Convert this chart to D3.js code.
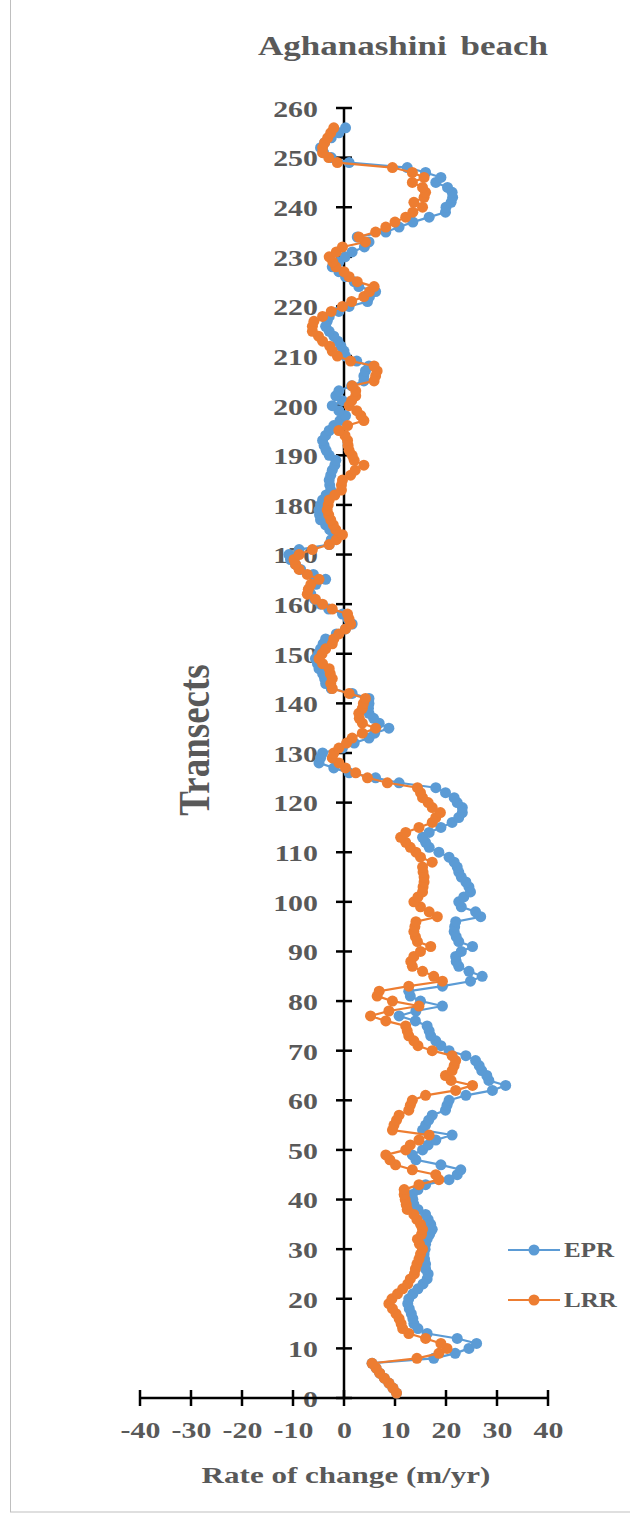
<!DOCTYPE html>
<html>
<head>
<meta charset="utf-8">
<script src="https://cdn.jsdelivr.net/npm/d3@7"></script>
<style>
  body { margin: 0; background: #fff; }
  svg { display: block; }
</style>
</head>
<body>
<svg></svg>
<script>
// transect numbers run 1..256, values listed from transect 1 upward
var transects = d3.range(1, 257);

var epr = [
  10.3, 9.6, 8.8, 7.9, 7.0, 6.3, 5.5, 17.6, 21.8, 24.5,
  26.0, 22.2, 16.3, 14.5, 13.7, 13.5, 13.2, 12.8, 12.5, 12.7,
  13.5, 14.5, 15.5, 16.3, 16.5, 16.0, 16.0, 15.8, 15.7, 15.9,
  16.0, 16.3, 16.8, 17.3, 17.0, 16.5, 16.0, 14.5, 13.7, 13.5,
  13.4, 14.5, 16.0, 20.6, 22.2, 22.9, 19.0, 14.1, 13.4, 15.4,
  16.5, 18.0, 21.2, 15.4, 16.0, 16.6, 17.3, 19.9, 20.2, 20.6,
  23.9, 29.1, 31.7, 28.4, 28.0, 27.0, 26.5, 25.8, 23.9, 20.6,
  19.0, 18.0, 17.0, 16.7, 16.3, 14.0, 10.8, 14.1, 19.3, 15.0,
  13.0, 12.7, 19.3, 24.8, 27.1, 24.5, 22.5, 22.0, 21.9, 23.0,
  25.2, 22.5, 22.0, 21.6, 21.7, 21.9, 26.8, 25.8, 23.0, 22.5,
  23.5, 24.8, 24.5, 23.9, 23.0, 22.5, 22.2, 21.6, 20.6, 18.6,
  16.7, 16.0, 15.4, 16.7, 19.0, 21.2, 22.5, 23.2, 23.2, 22.2,
  21.6, 19.9, 18.0, 10.8, 6.2, 1.0, -2.0, -4.9, -4.6, -4.2,
  -0.3, 2.0, 4.9, 6.0, 8.8, 6.9, 5.8, 4.9, 4.8, 4.9,
  4.9, 1.6, -2.5, -3.6, -3.8, -4.2, -4.9, -5.2, -5.6, -5.0,
  -4.6, -4.1, -3.6, -1.5, 0.3, 1.6, 0.8, -0.3, -3.0, -4.6,
  -5.8, -6.5, -6.9, -5.5, -3.6, -6.0, -8.5, -9.5, -10.5, -10.8,
  -8.8, -2.9, -2.5, -1.6, -2.8, -3.6, -4.6, -4.8, -4.9, -4.6,
  -4.2, -3.5, -2.6, -2.8, -2.9, -2.6, -2.3, -1.8, -1.6, -2.9,
  -3.5, -3.9, -4.2, -3.6, -2.9, -2.0, -0.8, 0.3, -1.0, -2.3,
  -0.3, -1.6, -1.0, 1.5, 3.9, 3.9, 4.2, 4.9, 2.5, 0.3,
  0.0, -0.6, -1.2, -2.0, -2.9, -3.6, -3.3, -2.9, -1.0, 1.0,
  4.6, 5.0, 6.2, 2.9, 2.0, 0.3, -1.0, -2.3, -1.0, 0.2,
  1.6, 4.0, 4.9, 2.6, 8.2, 10.8, 13.5, 16.7, 19.9, 20.0,
  21.0, 21.3, 21.2, 20.3, 18.0, 19.0, 16.0, 12.4, 1.0, -2.5,
  -4.0, -4.6, -3.8, -2.5, -1.0, 0.3
];

var lrr = [
  10.3, 9.6, 8.8, 7.9, 7.0, 6.3, 5.5, 14.3, 18.6, 20.2,
  19.0, 16.0, 12.7, 11.5, 11.2, 10.8, 10.2, 9.5, 8.8, 9.4,
  10.5, 11.5, 12.5, 13.0, 13.8, 14.0, 14.3, 14.7, 15.0, 15.4,
  14.8, 14.4, 15.2, 15.4, 15.0, 14.3, 13.7, 12.4, 12.2, 12.0,
  11.8, 11.8, 14.7, 18.6, 18.0, 13.4, 10.1, 9.0, 8.2, 12.1,
  13.0, 14.7, 16.7, 9.5, 9.8, 10.3, 10.8, 12.7, 13.0, 13.4,
  16.0, 21.9, 25.2, 21.0, 19.9, 21.2, 21.6, 21.9, 21.2, 17.3,
  14.5, 13.7, 12.7, 12.4, 12.1, 8.2, 5.2, 8.8, 14.7, 9.5,
  6.5, 6.9, 12.7, 19.3, 17.6, 15.4, 13.4, 13.1, 13.7, 15.0,
  17.0, 14.4, 14.0, 13.7, 13.9, 14.1, 18.3, 16.7, 15.0, 13.7,
  14.5, 15.4, 15.5, 15.7, 15.7, 15.5, 15.4, 17.3, 15.0, 14.1,
  13.0, 12.1, 11.1, 12.1, 14.7, 17.3, 18.0, 18.9, 17.3, 16.5,
  15.4, 15.0, 14.4, 8.5, 4.6, 2.3, 0.3, -1.0, -2.3, -2.0,
  -1.0, 0.5, 1.6, 3.6, 6.2, 3.6, 3.0, 2.9, 3.6, 3.8,
  4.2, 1.0, -2.3, -2.6, -2.3, -2.7, -2.9, -4.2, -4.9, -4.3,
  -3.6, -2.3, -2.0, -1.0, 0.3, 1.3, 1.0, 0.7, -2.3, -4.2,
  -5.6, -7.2, -7.0, -6.5, -4.9, -7.2, -8.8, -9.5, -9.8, -8.8,
  -6.2, -2.9, -1.5, -0.3, -1.6, -2.1, -2.6, -3.0, -3.3, -3.1,
  -2.9, -1.8, -0.5, -0.5, -0.3, 1.3, 2.2, 3.9, 2.0, 1.6,
  1.0, 0.8, 0.7, 0.2, -1.0, 0.7, 3.9, 3.3, 2.5, 1.0,
  1.5, 2.3, 2.3, 1.6, 5.9, 6.2, 6.5, 5.9, 1.3, -1.3,
  -2.3, -2.8, -4.2, -5.0, -6.2, -6.2, -5.9, -4.2, -2.5, -0.3,
  1.5, 3.9, 5.0, 5.9, 2.6, 1.0, 0.0, -1.6, -2.2, -2.9,
  -1.5, -0.3, 4.2, 2.9, 6.2, 8.2, 10.0, 12.1, 13.5, 15.4,
  13.7, 15.7, 16.0, 15.4, 13.4, 15.7, 13.4, 9.5, -1.3, -3.0,
  -4.2, -4.2, -3.8, -3.2, -2.6, -2.0
];

var xTicks = [-40, -30, -20, -10, 0, 10, 20, 30, 40];
var yTicks = d3.range(0, 261, 10);

var series = [
  { name: "EPR", values: epr, color: "#5B9BD5" },
  { name: "LRR", values: lrr, color: "#ED7D31" }
];

var width = 630, height = 1517;
var svg = d3.select("svg")
    .attr("width", width)
    .attr("height", height);

var font = "'Liberation Serif', 'Times New Roman', serif";
var grey = "#595959";
// the source picture is stretched sideways, so text is widened a bit
var stretch = 1.3;

// chart frame
svg.append("rect")
    .attr("x", 10.5)
    .attr("y", -1)
    .attr("width", 640)
    .attr("height", 1513)
    .attr("fill", "#fff")
    .attr("stroke", "#bfbfbf");

var x = d3.scaleLinear().domain([-40, 40]).range([140, 548]);
var y = d3.scaleLinear().domain([0, 260]).range([1398, 108]);

// y axis sits on x = 0, x axis on transect 0
var yAxis = d3.axisLeft(y)
    .tickValues(yTicks)
    .tickSize(0)
    .tickPadding(0)
    .tickFormat(function (d) { return String(d); });

var gy = svg.append("g")
    .attr("transform", "translate(" + x(0) + ",0)")
    .call(yAxis);
gy.select(".domain").remove();
gy.selectAll("text")
    .attr("x", 0)
    .attr("transform", "translate(-26,1) scale(" + stretch + ",1)")
    .attr("fill", grey)
    .style("font-family", font)
    .style("font-size", "23px")
    .style("font-weight", "bold");

// plain hyphen for negatives, as in the source
var xAxis = d3.axisBottom(x)
    .tickValues(xTicks)
    .tickSize(0)
    .tickPadding(24)
    .tickFormat(function (d) { return String(d); });

var gx = svg.append("g")
    .attr("transform", "translate(0," + y(0) + ")")
    .call(xAxis);
gx.select(".domain").remove();
gx.selectAll("text")
    .attr("transform", "scale(" + stretch + ",1)")
    .attr("fill", grey)
    .style("font-family", font)
    .style("font-size", "23px")
    .style("font-weight", "bold");

// axis lines with cross tick marks
svg.append("line")
    .attr("x1", x(0)).attr("x2", x(0))
    .attr("y1", y(260)).attr("y2", y(0))
    .attr("stroke", "#000").attr("stroke-width", 2.5);
svg.append("g").selectAll("line")
    .data(yTicks)
    .enter().append("line")
    .attr("x1", x(0) - 8).attr("x2", x(0) + 8)
    .attr("y1", function (d) { return y(d); })
    .attr("y2", function (d) { return y(d); })
    .attr("stroke", "#000").attr("stroke-width", 2.5);

svg.append("line")
    .attr("x1", x(-40)).attr("x2", x(40))
    .attr("y1", y(0)).attr("y2", y(0))
    .attr("stroke", "#000").attr("stroke-width", 2.5);
svg.append("g").selectAll("line")
    .data(xTicks)
    .enter().append("line")
    .attr("x1", function (d) { return x(d); })
    .attr("x2", function (d) { return x(d); })
    .attr("y1", y(0) - 8).attr("y2", y(0) + 8)
    .attr("stroke", "#000").attr("stroke-width", 2.5);

// series
var line = d3.line()
    .x(function (d) { return x(d[1]); })
    .y(function (d) { return y(d[0]); });

series.forEach(function (s) {
    var pts = transects.map(function (t, i) { return [t, s.values[i]]; });
    var g = svg.append("g").attr("class", "series-" + s.name);
    g.append("path")
        .datum(pts)
        .attr("d", line)
        .attr("fill", "none")
        .attr("stroke", s.color)
        .attr("stroke-width", 2.2);
    g.selectAll("circle")
        .data(pts)
        .enter().append("circle")
        .attr("cx", function (d) { return x(d[1]); })
        .attr("cy", function (d) { return y(d[0]); })
        .attr("r", 5.5)
        .attr("fill", s.color);
});

// title and axis titles
svg.append("text")
    .attr("transform", "translate(403,55) scale(1.25,1)")
    .attr("text-anchor", "middle")
    .attr("fill", grey)
    .style("font-family", font)
    .style("font-size", "28px")
    .style("font-weight", "bold")
    .style("word-spacing", "4px")
    .text("Aghanashini beach");

svg.append("text")
    .attr("transform", "translate(209,740) scale(1.2,1) rotate(-90)")
    .attr("text-anchor", "middle")
    .attr("fill", grey)
    .style("font-family", font)
    .style("font-size", "37px")
    .style("font-weight", "bold")
    .text("Transects");

svg.append("text")
    .attr("transform", "translate(346,1483) scale(1.35,1)")
    .attr("text-anchor", "middle")
    .attr("fill", grey)
    .style("font-family", font)
    .style("font-size", "23px")
    .style("font-weight", "bold")
    .text("Rate of change (m/yr)");

// legend
var legend = svg.append("g").selectAll("g")
    .data(series)
    .enter().append("g")
    .attr("transform", function (d, i) { return "translate(508," + (1250 + i * 50) + ")"; });
legend.append("line")
    .attr("x1", 0).attr("x2", 52)
    .attr("stroke", function (d) { return d.color; })
    .attr("stroke-width", 2.2);
legend.append("circle")
    .attr("cx", 26).attr("r", 5.5)
    .attr("fill", function (d) { return d.color; });
legend.append("text")
    .attr("transform", "translate(56,0) scale(1.25,1)")
    .attr("dy", "0.35em")
    .attr("fill", grey)
    .style("font-family", font)
    .style("font-size", "20px")
    .style("font-weight", "bold")
    .text(function (d) { return d.name; });
</script>
</body>
</html>
